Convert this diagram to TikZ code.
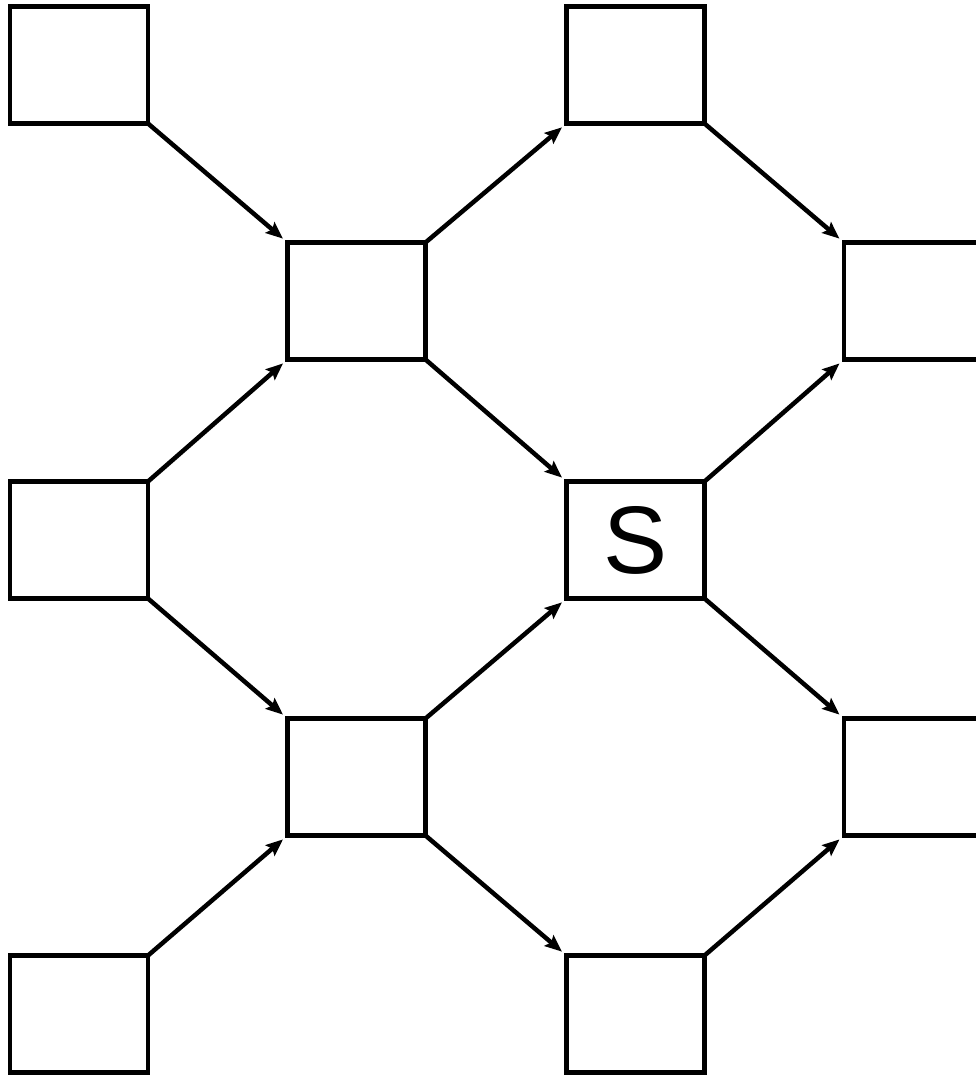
\documentclass[tikz,border=0pt]{standalone}
\usepackage{fontspec}
\setmainfont{Liberation Sans}
\usetikzlibrary{arrows.meta}
\begin{document}
\begin{tikzpicture}[x=1pt,y=-1pt,
  cell/.style={draw=black,line width=4.5pt,minimum width=138pt,minimum height=117pt,inner sep=0pt,outer sep=0pt},
  link/.style={line width=4.5pt,-{Stealth[length=17pt,width=14pt,inset=3pt]},shorten >=6pt}]
\useasboundingbox (0,0) rectangle (976,1075);
\clip (0,0) rectangle (976,1075);
\node[cell] (a0) at (79,65) {};
\node[cell] (a2) at (79,540) {};
\node[cell] (a4) at (79,1014) {};
\node[cell] (b1) at (356.5,301) {};
\node[cell] (b3) at (356.5,777) {};
\node[cell] (c0) at (635.5,65) {};
\node[cell] (c2) at (635.5,540) {\fontsize{96}{96}\selectfont S};
\node[cell] (c4) at (635.5,1014) {};
\node[cell] (d1) at (913,301) {};
\node[cell] (d3) at (913,777) {};
\draw[link] (a0.south east) -- (b1.north west);
\draw[link] (b1.north east) -- (c0.south west);
\draw[link] (c0.south east) -- (d1.north west);
\draw[link] (a2.north east) -- (b1.south west);
\draw[link] (b1.south east) -- (c2.north west);
\draw[link] (c2.north east) -- (d1.south west);
\draw[link] (a2.south east) -- (b3.north west);
\draw[link] (b3.north east) -- (c2.south west);
\draw[link] (c2.south east) -- (d3.north west);
\draw[link] (a4.north east) -- (b3.south west);
\draw[link] (b3.south east) -- (c4.north west);
\draw[link] (c4.north east) -- (d3.south west);
\end{tikzpicture}
\end{document}
